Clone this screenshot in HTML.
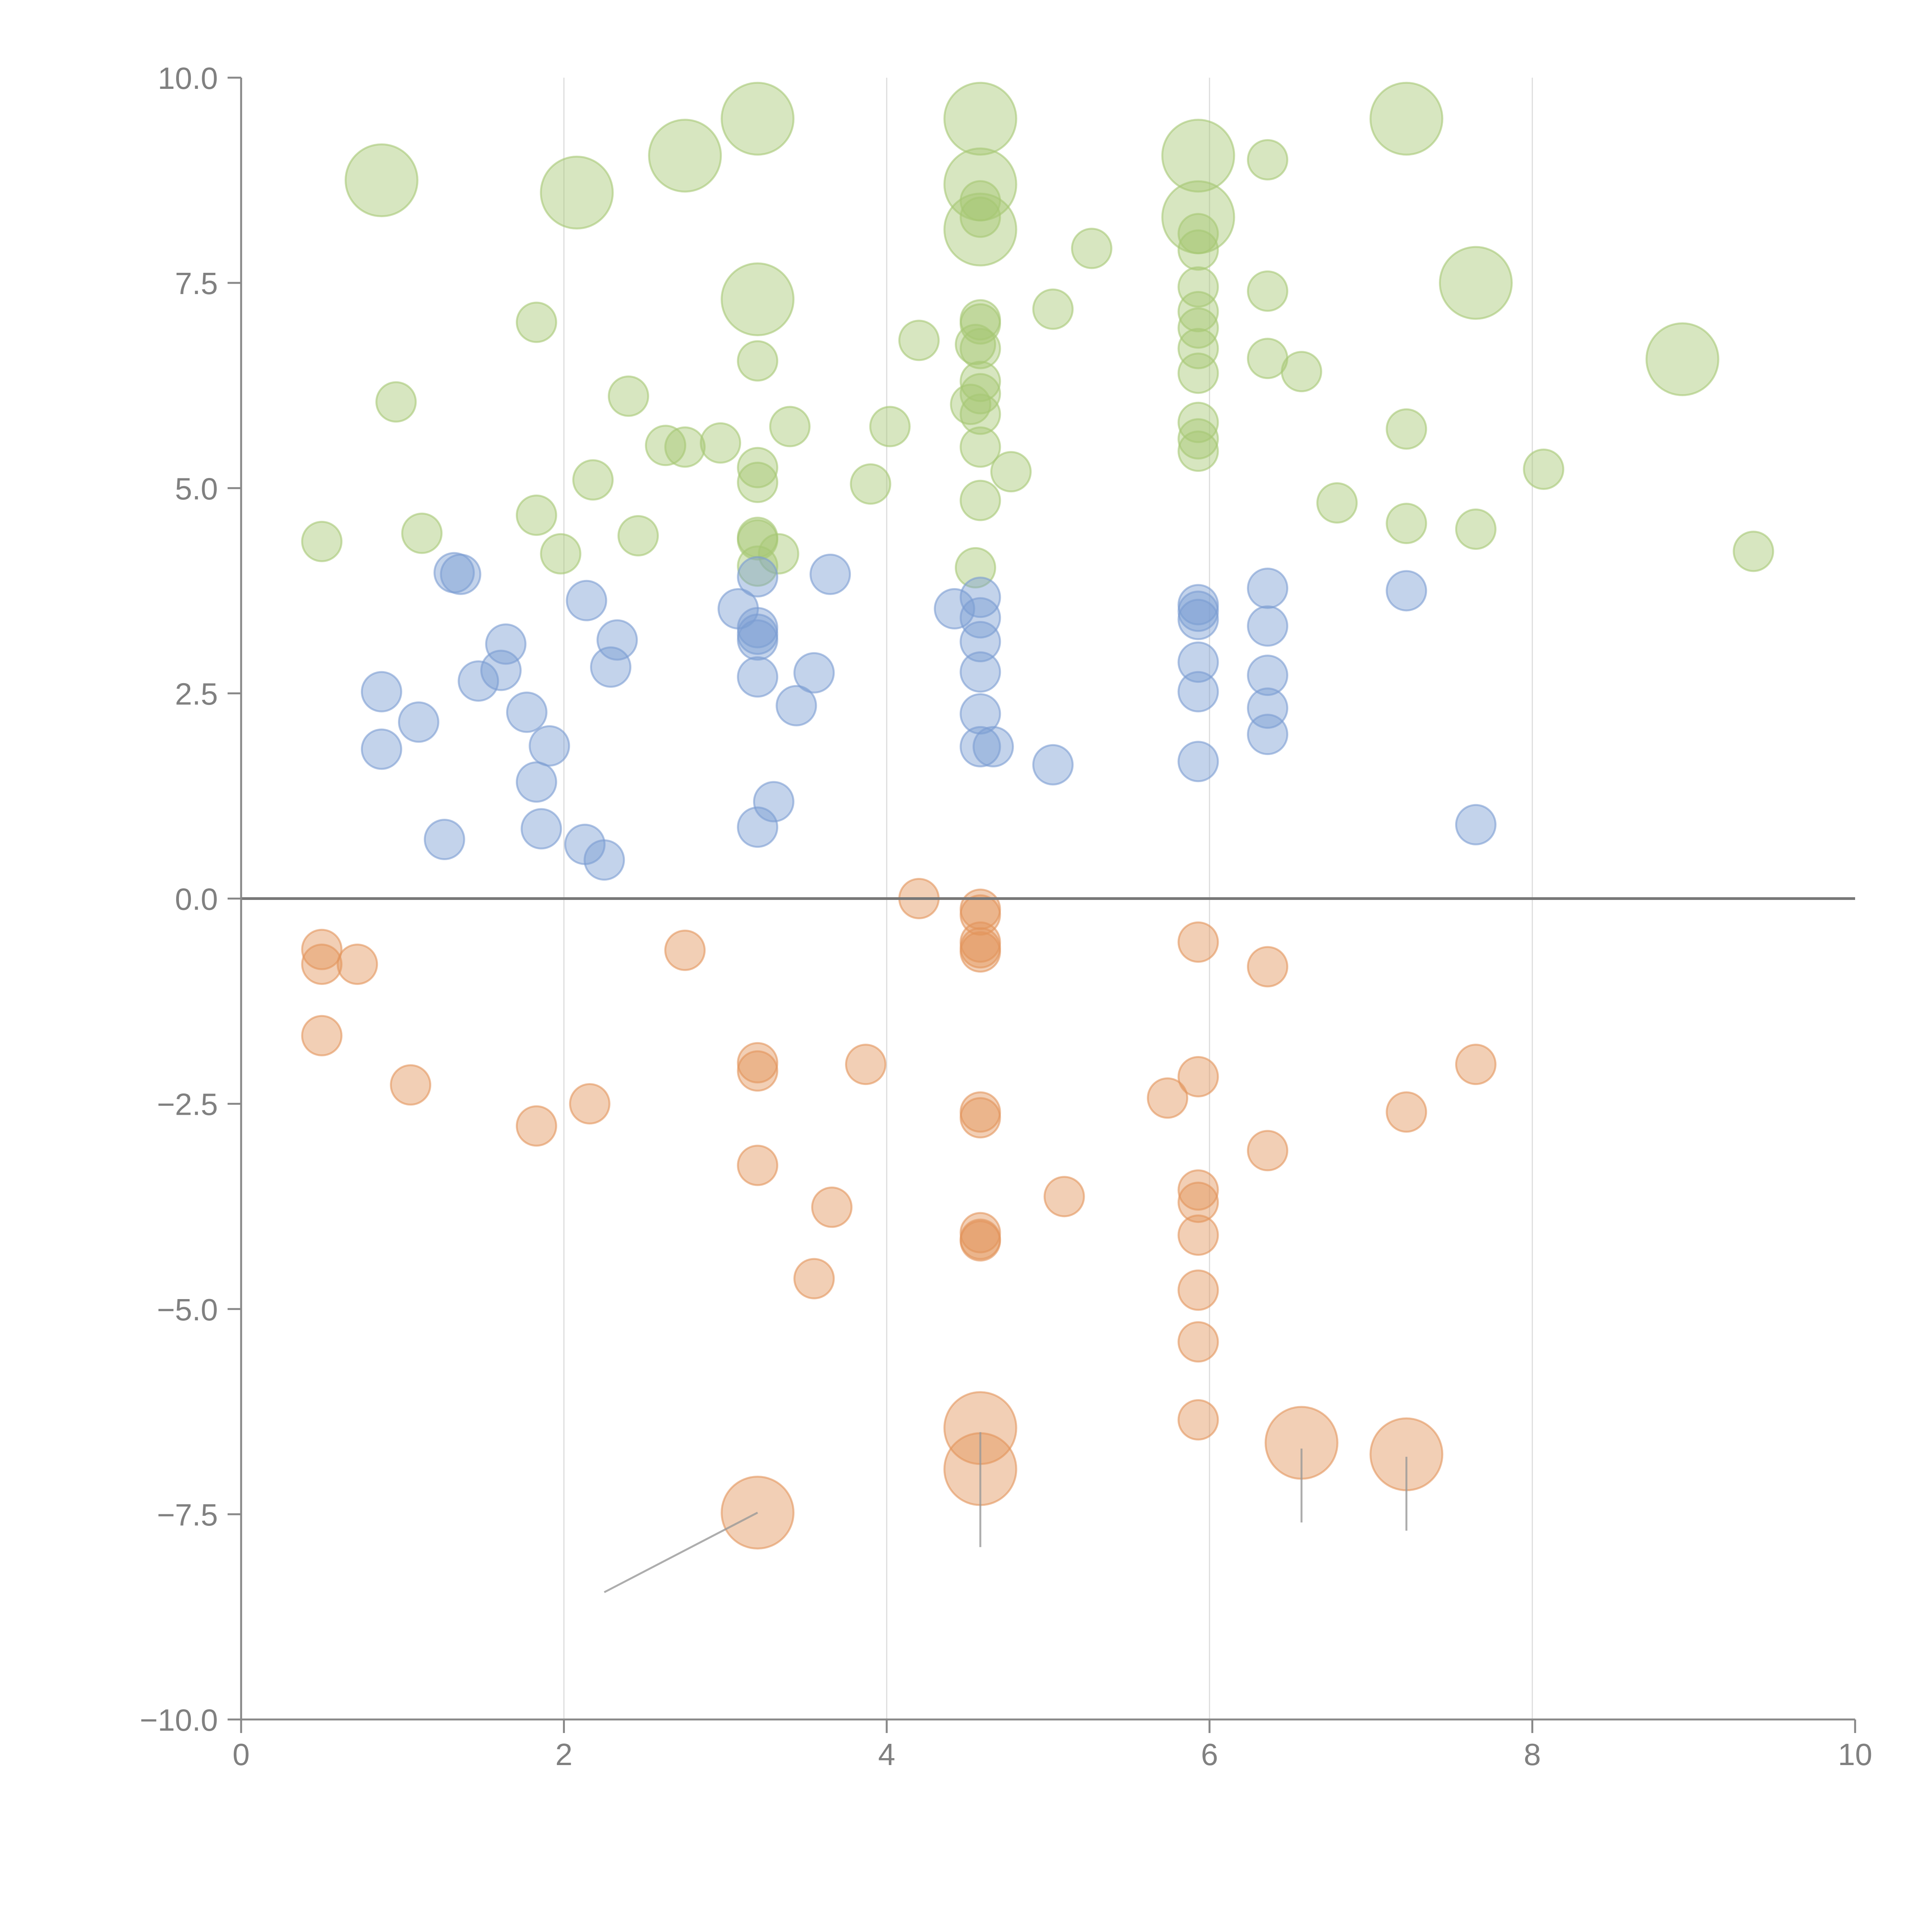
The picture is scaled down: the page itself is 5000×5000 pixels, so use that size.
<!DOCTYPE html>
<html><head><meta charset="utf-8"><style>html,body{margin:0;padding:0;background:#fff}svg{display:block}</style></head>
<body>
<svg id="chart" width="5000" height="5000" viewBox="0 0 5000 5000" xmlns="http://www.w3.org/2000/svg" font-family="Liberation Sans, sans-serif">
<g id="grid"></g>
<g id="marks"></g>
<g id="axes"></g>
</svg>
<script>
const xTicks=[0,2,4,6,8,10];
const yTicks=[10,7.5,5,2.5,0,-2.5,-5,-7.5,-10];
const yTickLabels=["10.0","7.5","5.0","2.5","0.0","\u22122.5","\u22125.0","\u22127.5","\u221210.0"];
const greenLargeX=[0.87,2.08,2.75,3.2,4.58,4.58,4.58,3.2,5.93,5.93,7.22,7.65,8.93];
const greenLargeY=[8.75,8.6,9.05,9.5,9.5,8.7,8.15,7.3,9.05,8.3,9.5,7.5,6.57];
const greenX=[0.5,0.96,1.12,1.83,1.83,1.98,2.18,2.4,2.46,2.63,2.75,2.97,3.2,3.2,3.2,3.2,3.2,3.2,3.33,3.4,3.9,4.02,4.2,4.52,4.55,4.58,4.58,4.55,4.58,4.58,4.58,4.58,4.58,4.58,4.58,4.58,4.77,5.03,5.27,5.93,5.93,5.93,5.93,5.93,5.93,5.93,5.93,5.93,5.93,6.36,6.36,6.36,6.57,6.79,7.22,7.22,7.65,8.07,9.37];
const greenY=[4.35,6.05,4.45,7.02,4.67,4.2,5.1,6.12,4.42,5.52,5.5,5.55,6.55,5.25,5.07,4.4,4.37,4.05,4.2,5.75,5.05,5.75,6.8,6.02,4.03,7.05,7.0,6.75,6.7,6.3,6.15,5.9,5.5,4.85,8.5,8.3,5.2,7.18,7.92,8.1,7.9,7.45,7.15,6.95,6.7,6.4,5.8,5.6,5.45,9.0,7.4,6.58,6.42,4.82,5.72,4.57,4.5,5.23,4.23];
const blueX=[0.87,0.87,1.1,1.26,1.32,1.36,1.47,1.61,1.64,1.77,1.83,1.86,1.91,2.13,2.14,2.25,2.29,2.33,3.08,3.2,3.2,3.2,3.2,3.2,3.2,3.3,3.44,3.55,3.65,4.42,4.58,4.58,4.58,4.58,4.58,4.58,4.66,5.03,5.93,5.93,5.93,5.93,5.93,5.93,6.36,6.36,6.36,6.36,6.36,7.22,7.65];
const blueY=[2.52,1.82,2.15,0.72,3.97,3.95,2.65,2.78,3.1,2.27,1.42,0.85,1.86,0.66,3.63,0.47,2.82,3.15,3.53,3.92,3.3,3.22,3.15,2.7,0.87,1.18,2.35,2.75,3.95,3.53,3.67,3.42,3.13,2.76,2.25,1.85,1.85,1.63,3.58,3.5,3.4,2.88,2.52,1.67,3.78,3.32,2.72,2.32,2.0,3.75,0.9];
const orangeX=[0.5,0.5,0.72,0.5,1.05,1.83,2.16,2.75,3.2,3.2,3.2,3.55,3.66,3.87,4.2,4.58,4.58,4.58,4.58,4.58,4.58,4.58,4.58,4.58,4.58,5.1,5.74,5.93,5.93,5.93,5.93,5.93,5.93,5.93,5.93,6.36,6.36,7.22,7.65];
const orangeY=[-0.62,-0.8,-0.8,-1.67,-2.27,-2.77,-2.5,-0.63,-2.0,-2.1,-3.25,-4.63,-3.76,-2.02,0.0,-0.13,-0.2,-0.53,-0.6,-0.65,-2.6,-2.67,-4.07,-4.15,-4.17,-3.63,-2.43,-0.53,-2.17,-3.55,-3.7,-4.1,-4.77,-5.4,-6.35,-0.83,-3.07,-2.6,-2.02];
const orangeLargeX=[3.2,4.58,4.58,6.57,7.22];
const orangeLargeY=[-7.48,-6.45,-6.95,-6.63,-6.77];
const leaderX1=[3.2,4.58,6.57,7.22];
const leaderY1=[-7.48,-6.5,-6.7,-6.8];
const leaderX2=[2.25,4.58,6.57,7.22];
const leaderY2=[-8.45,-7.9,-7.6,-7.7];

const X0=624,X1=4801,Y0=4450,Y1=201;
const sx=v=>X0+(v-0)/(10-0)*(X1-X0);
const sy=v=>Y0-(v+10)/20*(Y0-Y1);
const NS="http://www.w3.org/2000/svg";
function mk(tag,parent,attrs){const e=document.createElementNS(NS,tag);for(const k in attrs)e.setAttribute(k,attrs[k]);parent.appendChild(e);return e;}
const grid=document.getElementById('grid'),marks=document.getElementById('marks'),axes=document.getElementById('axes');
xTicks.forEach(t=>{if(t>0&&t<10){const l=mk('line',grid,{x1:sx(t),x2:sx(t),y1:sy(10),y2:sy(-10),stroke:'#dddddd','stroke-width':3});

}});
function dots(xs,ys,r,col,name){xs.forEach((x,i)=>{const c=mk('circle',marks,{cx:sx(x),cy:sy(ys[i]),r:r,fill:col,'fill-opacity':0.45,stroke:col,'stroke-opacity':0.6,'stroke-width':5});

});}
dots(greenX,greenY,51,'#a6c874','green-bubble');
dots(greenLargeX,greenLargeY,93,'#a6c874','green-large-bubble');
dots(blueX,blueY,51,'#7b9dd2','blue-bubble');
dots(orangeX,orangeY,51,'#e3955c','orange-bubble');
dots(orangeLargeX,orangeLargeY,93,'#e3955c','orange-large-bubble');
leaderX1.forEach((x,i)=>{const l=mk('line',marks,{x1:sx(x),y1:sy(leaderY1[i]),x2:sx(leaderX2[i]),y2:sy(leaderY2[i]),stroke:'#999','stroke-width':5,'stroke-opacity':0.8});

});
const z=mk('line',axes,{x1:sx(0),x2:sx(10),y1:sy(0),y2:sy(0),stroke:'#777','stroke-width':7});


const ya=mk('line',axes,{x1:X0,x2:X0,y1:Y1,y2:Y0+35,stroke:'#888','stroke-width':5});


const xa=mk('line',axes,{x1:X0-35,x2:X1,y1:Y0,y2:Y0,stroke:'#888','stroke-width':5});


yTicks.forEach((t,i)=>{mk('line',axes,{x1:X0-35,x2:X0,y1:sy(t),y2:sy(t),stroke:'#888','stroke-width':5});
const tx=mk('text',axes,{x:X0-60,y:sy(t)+29,'text-anchor':'end','font-size':80,fill:'#808080'});tx.textContent=yTickLabels[i];

});
xTicks.forEach(t=>{mk('line',axes,{x1:sx(t),x2:sx(t),y1:Y0,y2:Y0+35,stroke:'#888','stroke-width':5});
const tx=mk('text',axes,{x:sx(t),y:Y0+118,'text-anchor':'middle','font-size':80,fill:'#808080'});tx.textContent=String(t);

});
</script>
</body></html>
